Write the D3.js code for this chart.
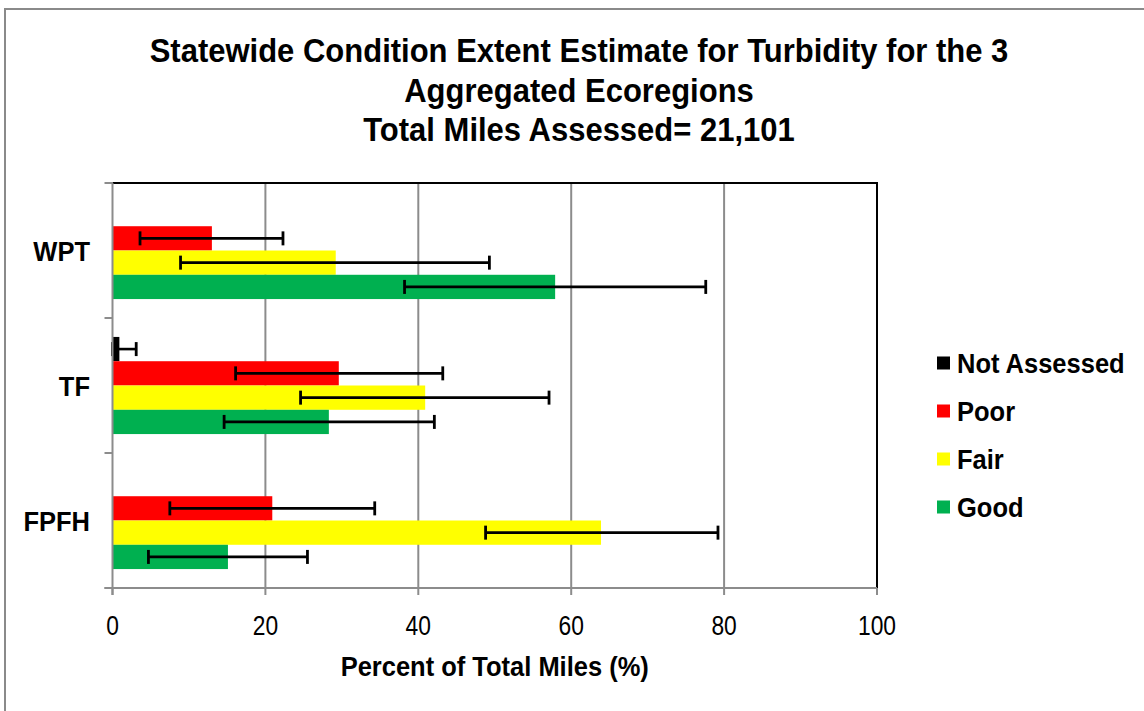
<!DOCTYPE html>
<html>
<head>
<meta charset="utf-8">
<script src="https://cdn.jsdelivr.net/npm/d3@7"></script>
<style>
  html, body { margin: 0; padding: 0; background: #fff; }
  svg { display: block; }
</style>
</head>
<body>
<svg id="chart" width="1144" height="711"></svg>
<script>
// ---- data ----
const categories = ["WPT", "TF", "FPFH"];
const seriesNames = ["Not Assessed", "Poor", "Fair", "Good"];
const seriesColors = ["#000000", "#FF0000", "#FFFF00", "#00B050"];
const notAssessed = [0, 0.9, 0];
const poor = [13.0, 29.6, 20.9];
const fair = [29.2, 40.9, 63.9];
const good = [57.9, 28.3, 15.1];
const notAssessedLo = [null, 0.0, null];
const notAssessedHi = [null, 3.1, null];
const poorLo = [3.6, 16.1, 7.5];
const poorHi = [22.3, 43.2, 34.3];
const fairLo = [8.9, 24.6, 48.8];
const fairHi = [49.3, 57.1, 79.2];
const goodLo = [38.2, 14.6, 4.7];
const goodHi = [77.6, 42.1, 25.5];
const xTicks = [0, 20, 40, 60, 80, 100];
const titleLines = [
  "Statewide Condition Extent Estimate for Turbidity for the 3",
  "Aggregated Ecoregions",
  "Total Miles Assessed= 21,101"
];
const xAxisTitle = "Percent of Total Miles (%)";

const values = [notAssessed, poor, fair, good];
const los = [notAssessedLo, poorLo, fairLo, goodLo];
const his = [notAssessedHi, poorHi, fairHi, goodHi];

// ---- layout ----
const svg = d3.select("#chart");
const W = 1144, H = 711;
const plot = { left: 112.5, right: 877, top: 183, bottom: 588 };
const bold = "'Liberation Sans', Arial, sans-serif";
const gridColor = "#8c8c8c";
const SY = 1.1;

function txt(g, x, y, s, opts) {
  return g.append("text")
    .attr("transform", `translate(${x},${y}) scale(${opts.sx || 1},${opts.sy || 1})`)
    .attr("text-anchor", opts.anchor || "start")
    .attr("font-family", opts.family || bold)
    .attr("font-weight", opts.weight || "bold")
    .attr("font-size", opts.size)
    .attr("fill", "#000")
    .text(s);
}

// outer frame (extends beyond right/bottom edges)
svg.append("rect").attr("x", 5).attr("y", 9).attr("width", W + 20).attr("height", H + 20)
  .attr("fill", "#fff").attr("stroke", "#8a8a8a").attr("stroke-width", 2);

// scales
const x = d3.scaleLinear().domain([0, 100]).range([plot.left, plot.right]);
const y = d3.scaleBand().domain(categories).range([plot.top, plot.bottom]).paddingInner(0).paddingOuter(0);
const ySub = d3.scaleBand().domain(seriesNames).range([0, y.bandwidth()])
  .paddingInner(0).paddingOuter(0.78);

// title
titleLines.forEach((t, i) => {
  txt(svg, 579, 62 + i * 39.5, t, { anchor: "middle", size: "31px", sy: SY });
});

// gridlines
svg.append("g").selectAll("line").data(xTicks.filter(d => d > 0 && d < 100)).join("line")
  .attr("x1", d => x(d)).attr("x2", d => x(d))
  .attr("y1", plot.top).attr("y2", plot.bottom)
  .attr("stroke", gridColor).attr("stroke-width", 2);

// bars
const gBars = svg.append("g");
seriesNames.forEach((s, si) => {
  gBars.selectAll(null).data(categories).join("rect")
    .attr("x", x(0))
    .attr("y", (c) => y(c) + ySub(s))
    .attr("width", (c, ci) => x(values[si][ci]) - x(0))
    .attr("height", ySub.bandwidth())
    .attr("fill", seriesColors[si]);
});

// error bars
const gErr = svg.append("g").attr("stroke", "#000");
seriesNames.forEach((s, si) => {
  categories.forEach((c, ci) => {
    const lo = los[si][ci], hi = his[si][ci];
    if (lo == null || hi == null) return;
    const cy = y(c) + ySub(s) + ySub.bandwidth() / 2;
    gErr.append("line").attr("x1", x(lo)).attr("x2", x(hi)).attr("y1", cy).attr("y2", cy)
      .attr("stroke-width", 2.6);
    [lo, hi].forEach(v => {
      gErr.append("line").attr("x1", x(v)).attr("x2", x(v)).attr("y1", cy - 7).attr("y2", cy + 7)
        .attr("stroke-width", 2.8);
    });
  });
});

// plot border: top and right in black
svg.append("line").attr("x1", plot.left).attr("x2", plot.right + 1).attr("y1", plot.top).attr("y2", plot.top)
  .attr("stroke", "#000").attr("stroke-width", 2);
svg.append("line").attr("x1", plot.right).attr("x2", plot.right).attr("y1", plot.top).attr("y2", plot.bottom)
  .attr("stroke", "#000").attr("stroke-width", 2);

// y axis (gray) with category boundary ticks
const yAxisG = svg.append("g");
yAxisG.append("line").attr("x1", plot.left).attr("x2", plot.left).attr("y1", plot.top).attr("y2", plot.bottom + 7)
  .attr("stroke", gridColor).attr("stroke-width", 2);
const boundaries = categories.map(c => y(c)).concat([plot.bottom]);
yAxisG.selectAll("line.t").data(boundaries).join("line").attr("class", "t")
  .attr("x1", plot.left - 8).attr("x2", plot.left).attr("y1", d => d).attr("y2", d => d)
  .attr("stroke", gridColor).attr("stroke-width", 2);
categories.forEach(c => {
  txt(yAxisG, 90, y(c) + y.bandwidth() / 2 + 10.5, c, { anchor: "end", size: "25.5px", sy: SY });
});

// x axis (gray)
const xAxisG = svg.append("g");
xAxisG.append("line").attr("x1", plot.left - 8).attr("x2", plot.right).attr("y1", plot.bottom).attr("y2", plot.bottom)
  .attr("stroke", gridColor).attr("stroke-width", 2);
xAxisG.selectAll("line.t").data(xTicks).join("line").attr("class", "t")
  .attr("x1", d => x(d)).attr("x2", d => x(d)).attr("y1", plot.bottom).attr("y2", plot.bottom + 7)
  .attr("stroke", gridColor).attr("stroke-width", 2);
xTicks.forEach(t => {
  txt(xAxisG, x(t), 635, d3.format("d")(t), { anchor: "middle", size: "24px", weight: "normal", sx: 0.95, sy: 1.17 });
});
txt(svg, (plot.left + plot.right) / 2, 676, xAxisTitle, { anchor: "middle", size: "25.5px", sy: 1.05 });

// legend
const legendG = svg.append("g");
seriesNames.forEach((s, i) => {
  const cy = 363 + i * 48;
  legendG.append("rect").attr("x", 937).attr("y", cy - 6.5).attr("width", 13).attr("height", 13)
    .attr("fill", seriesColors[i]);
  txt(legendG, 957, cy + 10, s, { size: "25.5px", sy: SY });
});
</script>
</body>
</html>
